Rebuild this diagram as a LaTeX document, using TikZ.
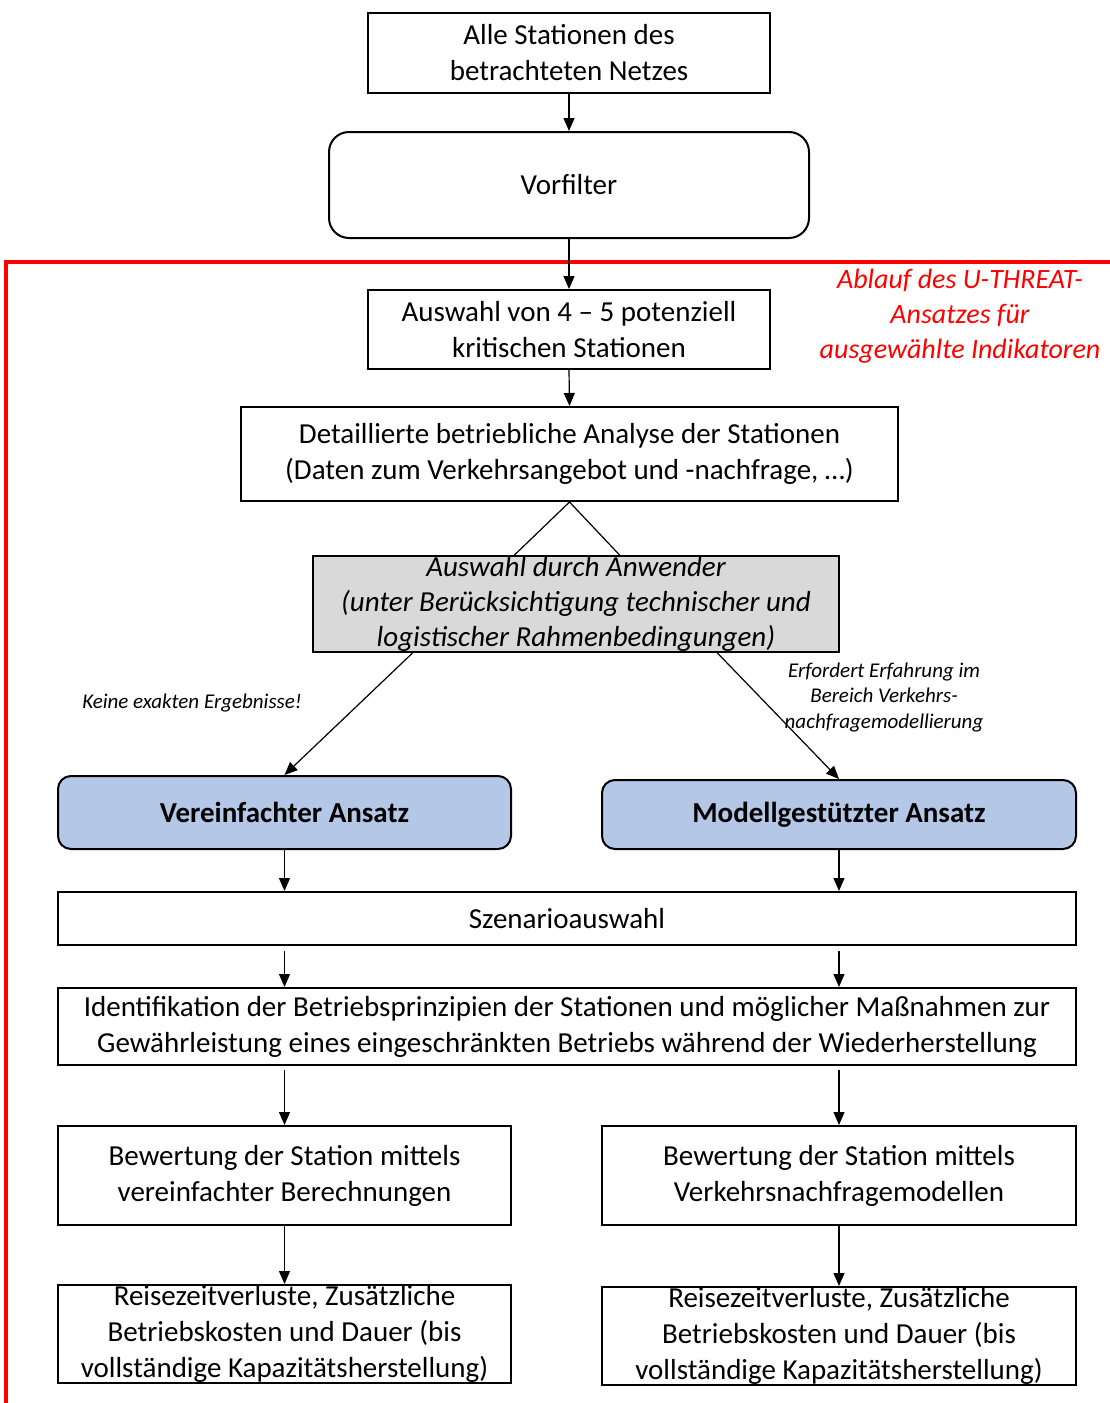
\documentclass[tikz,border=0pt]{standalone}
\usepackage{fontspec}
\setmainfont{Carlito}
\usetikzlibrary{arrows.meta,calc}
\definecolor{approach}{HTML}{B4C7E7}
\definecolor{choice}{HTML}{D9D9D9}
\definecolor{frame}{HTML}{FF0000}
\tikzset{
  x=1pt, y=-1pt,
  box/.style={draw=black, line width=2pt, fill=white, align=center, inner sep=0pt,
    font=\fontsize{29}{36}\selectfont},
  roundbox/.style={box, rounded corners=20pt},
  bluebox/.style={box, rounded corners=13pt, fill=approach, font=\fontsize{29}{36}\selectfont\bfseries},
  greybox/.style={box, fill=choice, font=\fontsize{29}{35}\selectfont\itshape},
  flow/.style={line width=1.2pt, -{Triangle[length=13pt,width=11pt]}},
  plain/.style={line width=1.2pt},
  note/.style={align=center, font=\fontsize{21}{25.5}\selectfont\itshape},
  rednote/.style={align=center, text=frame, font=\fontsize{28}{35}\selectfont\itshape}
}
\begin{document}
\begin{tikzpicture}
\useasboundingbox (0,0) rectangle (1110,1403);

% frame of the U-THREAT procedure
\draw[frame, line width=4pt] (1110,262) -- (6,262) -- (6,1403);
\node[rednote] (frametitle) at (960,316) {Ablauf des U-THREAT-\\Ansatzes für\\ausgewählte Indikatoren};

% boxes
\node[box, minimum width=402pt, minimum height=80pt] (alle) at (569,53) {Alle Stationen des\\betrachteten Netzes};
\node[roundbox, minimum width=480pt, minimum height=106pt] (vorfilter) at (569,185) {Vorfilter};
\node[box, minimum width=402pt, minimum height=79pt] (auswahl) at (569,329.5) {Auswahl von 4 – 5 potenziell\\kritischen Stationen};
\node[box, minimum width=657pt, minimum height=94pt] (detail) at (569.5,454) {Detaillierte betriebliche Analyse der Stationen\\(Daten zum Verkehrsangebot und -nachfrage, …)};
\node[greybox, minimum width=526pt, minimum height=94pt] (user) at (576,604) {Auswahl durch Anwender\\(unter Berücksichtigung technischer und\\logistischer Rahmenbedingungen)};

\node[bluebox, minimum width=453pt, minimum height=73pt] (simple) at (284.5,812.5) {Vereinfachter Ansatz};
\node[bluebox, minimum width=474pt, minimum height=69pt] (model) at (839,814.5) {Modellgestützter Ansatz};

\node[box, minimum width=1018pt, minimum height=53pt] (scen) at (567,918.5) {Szenarioauswahl};
\node[box, minimum width=1018pt, minimum height=77pt] (ident) at (567,1026.5) {Identifikation der Betriebsprinzipien der Stationen und möglicher Maßnahmen zur\\Gewährleistung eines eingeschränkten Betriebs während der Wiederherstellung};

\node[box, minimum width=453pt, minimum height=99pt] (evalL) at (284.5,1175.5) {Bewertung der Station mittels\\vereinfachter Berechnungen};
\node[box, minimum width=474pt, minimum height=99pt] (evalR) at (839,1175.5) {Bewertung der Station mittels\\Verkehrsnachfragemodellen};

\node[box, minimum width=453pt, minimum height=98pt] (resL) at (284.5,1334) {Reisezeitverluste, Zusätzliche\\Betriebskosten und Dauer (bis\\vollständige Kapazitätsherstellung)};
\node[box, minimum width=474pt, minimum height=98pt] (resR) at (839,1336) {Reisezeitverluste, Zusätzliche\\Betriebskosten und Dauer (bis\\vollständige Kapazitätsherstellung)};

% notes on the two branches
\node[note] (noexact) at (192,703) {Keine exakten Ergebnisse!};
\node[note] (experience) at (884,697) {Erfordert Erfahrung im\\Bereich Verkehrs-\\nachfragemodellierung};

% connectors
\draw[flow] (alle.south) -- (vorfilter.north);
\draw[flow] (vorfilter.south) -- (auswahl.north);
\draw[flow] (auswahl.south) -- (detail.south |- auswahl.south |- detail.north);

\coordinate (splitL) at ($(user.north west)+(202,0)$);
\coordinate (splitR) at ($(user.north west)+(308,0)$);
\draw[plain] (splitL) -- (detail.south) -- (splitR);

\coordinate (leaveL) at ($(user.south west)+(101,0)$);
\coordinate (leaveR) at ($(user.south east)+(-123,0)$);
\draw[flow] (leaveL) -- (simple.north);
\draw[flow] (leaveR) -- (model.north);

\draw[flow] (simple.south) -- (simple.south |- scen.north);
\draw[flow] (model.south) -- (model.south |- scen.north);

\draw[flow, shorten <=5pt] (simple.south |- scen.south) -- (simple.south |- ident.north);
\draw[flow, shorten <=5pt] (model.south |- scen.south) -- (model.south |- ident.north);

\draw[flow, shorten <=4pt] (evalL.north |- ident.south) -- (evalL.north);
\draw[flow, shorten <=4pt] (evalR.north |- ident.south) -- (evalR.north);

\draw[flow] (evalL.south) -- (resL.north);
\draw[flow] (evalR.south) -- (resR.north);
\end{tikzpicture}
\end{document}
